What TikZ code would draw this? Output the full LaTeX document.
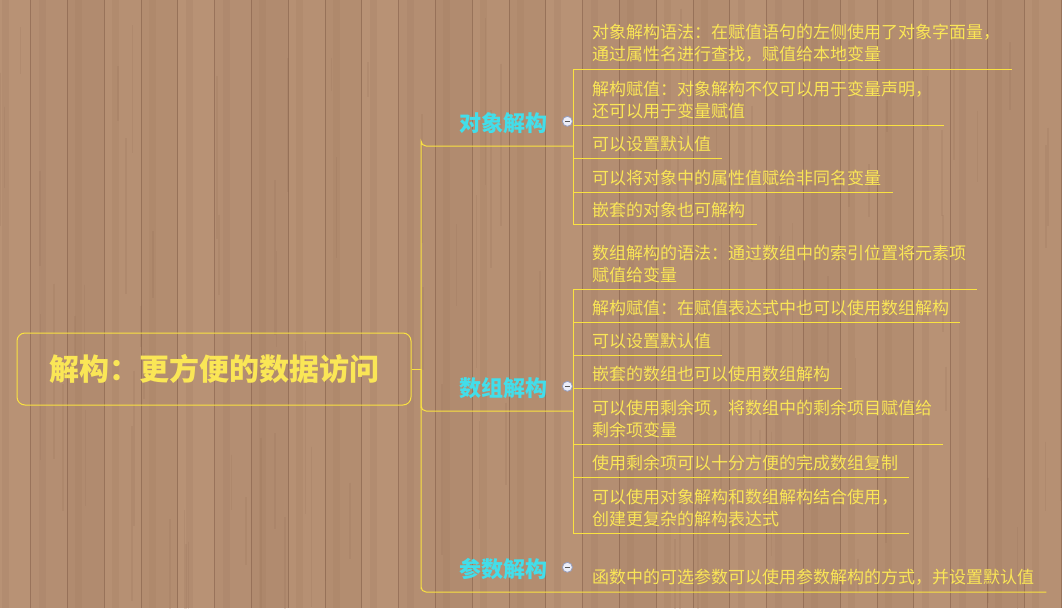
\documentclass[tikz,border=0pt]{standalone}
\usepackage{fontspec}
\setmainfont{Noto Sans CJK SC}
\usepackage{tikz}
\usepackage{pgf,pgffor}

\definecolor{woodA}{RGB}{184,146,117}
\definecolor{woodB}{RGB}{166,128,101}
\definecolor{seam}{RGB}{140,103,80}
\definecolor{lineyellow}{RGB}{250,226,64}
\definecolor{textyellow}{RGB}{250,230,86}
\definecolor{branchcyan}{RGB}{66,222,234}
\definecolor{foldfill}{RGB}{236,238,248}
\definecolor{folddraw}{RGB}{150,158,190}

\begin{document}
\begin{tikzpicture}[x=1pt,y=-1pt,
		link/.style={draw=lineyellow, line width=1pt, rounded corners=5pt},
		rootbox/.style={draw=lineyellow, line width=1pt, rounded corners=8pt, minimum width=394pt, minimum height=72pt, inner sep=0pt, text=textyellow, font=\fontsize{30}{36}\selectfont\bfseries},
		branch/.style={anchor=south west, text width=100pt, align=right, inner xsep=26pt, inner ysep=0pt, minimum height=46pt, text=branchcyan, font=\fontsize{22}{26}\selectfont\bfseries},
		leaf/.style={anchor=south west, inner xsep=0pt, inner ysep=6pt, align=left, text width=#1, text=textyellow, font=\fontsize{17}{22}\selectfont},
		fold/.style={circle, draw=folddraw, fill=foldfill, line width=0.8pt, minimum size=10pt, inner sep=0pt,
			path picture={\draw[black!65, line width=1.2pt] ([xshift=-2.5pt]path picture bounding box.center) -- ([xshift=2.5pt]path picture bounding box.center);}}]

			% wooden background
			\useasboundingbox (0,0) rectangle (1062,608);
			\fill [woodA] (0,0) rectangle (1062,608);
			\foreach \i in {0,...,29} {
				\pgfmathsetmacro\PX{36.8*\i-6.3}
				\pgfmathsetmacro\MIX{mod(\i*7,5)*9}
				\fill [woodB, opacity=\MIX/100] (\PX,0) rectangle (\PX+36.8,608);
				\fill [woodB, opacity=0.3] (\PX+8,0) rectangle (\PX+15,608);
				\draw [seam, opacity=0.7, line width=0.8pt] (\PX,0) -- (\PX,608);
			}
			\pgfmathsetseed{7}
			\foreach \k in {1,...,90} {
				\pgfmathsetmacro\SX{rnd*1062}
				\pgfmathsetmacro\SY{rnd*560}
				\pgfmathsetmacro\SL{30+rnd*150}
				\draw [seam, opacity=0.15, line width=1.6pt] (\SX,\SY) -- (\SX,\SY+\SL);
			}

			\node [rootbox] (root) at (214,369) {解构：更方便的数据访问};
			\coordinate (j) at (421,369);

			\node [branch] (obj) at (421,146) {对象解构};
			\node [branch] (arr) at (421,411) {数组解构};
			\node [branch] (par) at (421,592) {参数解构};

			\node [fold] (objfold) at ([xshift=-6pt,yshift=1.5pt]obj.east) {};
			\node [fold] (arrfold) at ([xshift=-6pt,yshift=1.5pt]arr.east) {};
			\node [fold] (parfold) at ([xshift=-6pt,yshift=1.5pt]par.east) {};

			\node [leaf=420pt] (o1) at (592,69) {对象解构语法：在赋值语句的左侧使用了对象字面量，\\通过属性名进行查找，赋值给本地变量};
			\node [leaf=352pt] (o2) at (592,125) {解构赋值：对象解构不仅可以用于变量声明，\\还可以用于变量赋值};
			\node [leaf=130pt] (o3) at (592,158) {可以设置默认值};
			\node [leaf=301pt] (o4) at (592,192) {可以将对象中的属性值赋给非同名变量};
			\node [leaf=165pt] (o5) at (592,224) {嵌套的对象也可解构};

			\node [leaf=385pt] (a1) at (592,289) {数组解构的语法：通过数组中的索引位置将元素项\\赋值给变量};
			\node [leaf=368pt] (a2) at (592,322) {解构赋值：在赋值表达式中也可以使用数组解构};
			\node [leaf=130pt] (a3) at (592,355) {可以设置默认值};
			\node [leaf=250pt] (a4) at (592,388) {嵌套的数组也可以使用数组解构};
			\node [leaf=351pt] (a5) at (592,444) {可以使用剩余项，将数组中的剩余项目赋值给\\剩余项变量};
			\node [leaf=317pt] (a6) at (592,477) {使用剩余项可以十分方便的完成数组复制};
			\node [leaf=317pt] (a7) at (592,533) {可以使用对象解构和数组解构结合使用，\\创建更复杂的解构表达式};

			\node [leaf=454pt] (p1) at (592,592) {函数中的可选参数可以使用参数解构的方式，并设置默认值};

			\draw [link] (root.east) -- (j);
			\draw [link] (j) |- (obj.south west) -- (obj.south east);
			\draw [link] (j) |- (arr.south west) -- (arr.south east);
			\draw [link] (j) |- (par.south west) -- (p1.south east);

			\draw [link] (o1.south west -| obj.south east) -- (o5.south west -| obj.south east);
			\foreach \l in {o1,o2,o3,o4,o5}
				\draw [link] (\l.south west -| obj.south east) -- (\l.south east);

			\draw [link] (a1.south west -| arr.south east) -- (a7.south west -| arr.south east);
			\foreach \l in {a1,a2,a3,a4,a5,a6,a7}
				\draw [link] (\l.south west -| arr.south east) -- (\l.south east);

		\end{tikzpicture}
\end{document}
